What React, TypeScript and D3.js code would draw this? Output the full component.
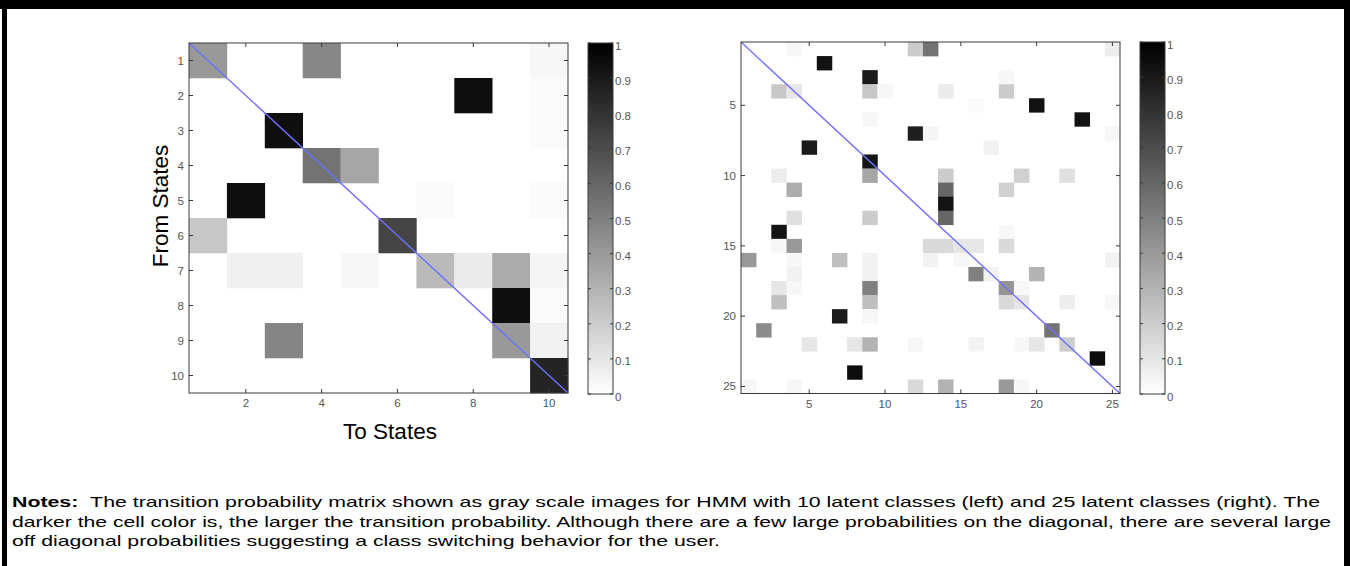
import React from 'react';
import * as d3 from 'd3';

// ---------- data ----------
const leftStates = [1, 2, 3, 4, 5, 6, 7, 8, 9, 10];
const leftXTicks = [2, 4, 6, 8, 10];
const leftYTicks = [1, 2, 3, 4, 5, 6, 7, 8, 9, 10];
// rows = from state, columns = to state
const leftMatrix = [
  [0.40, 0, 0, 0.47, 0, 0, 0, 0, 0, 0.03],
  [0, 0, 0, 0, 0, 0, 0, 0.94, 0, 0.02],
  [0, 0, 0.94, 0, 0, 0, 0, 0, 0, 0.02],
  [0, 0, 0, 0.55, 0.35, 0, 0, 0, 0, 0],
  [0, 0.94, 0, 0, 0, 0, 0.02, 0, 0, 0.02],
  [0.22, 0, 0, 0, 0, 0.73, 0, 0, 0, 0],
  [0, 0.06, 0.06, 0, 0.03, 0, 0.27, 0.08, 0.33, 0.04],
  [0, 0, 0, 0, 0, 0, 0, 0, 0.94, 0.02],
  [0, 0, 0.48, 0, 0, 0, 0, 0, 0.40, 0.05],
  [0, 0, 0, 0, 0, 0, 0, 0, 0, 0.86],
];

const rightStates = [1, 2, 3, 4, 5, 6, 7, 8, 9, 10, 11, 12, 13, 14, 15, 16, 17, 18, 19, 20, 21, 22, 23, 24, 25];
const rightTicks = [5, 10, 15, 20, 25];
// [from, to, probability]
const rightCells: [number, number, number][] = [
  [1, 4, 0.03], [1, 12, 0.2], [1, 13, 0.55], [1, 25, 0.07],
  [2, 6, 0.93],
  [3, 9, 0.9], [3, 18, 0.03],
  [4, 3, 0.22], [4, 4, 0.1], [4, 9, 0.22], [4, 10, 0.03], [4, 14, 0.08], [4, 18, 0.2],
  [5, 16, 0.02], [5, 20, 0.93],
  [6, 9, 0.03], [6, 23, 0.93],
  [7, 12, 0.88], [7, 13, 0.04], [7, 25, 0.03],
  [8, 5, 0.9], [8, 17, 0.05],
  [9, 9, 0.92],
  [10, 3, 0.07], [10, 9, 0.35], [10, 14, 0.2], [10, 19, 0.18], [10, 22, 0.12],
  [11, 4, 0.32], [11, 14, 0.6], [11, 18, 0.18],
  [12, 14, 0.92],
  [13, 4, 0.12], [13, 9, 0.2], [13, 14, 0.6],
  [14, 3, 0.92], [14, 18, 0.03],
  [15, 3, 0.03], [15, 4, 0.4], [15, 13, 0.15], [15, 14, 0.15], [15, 15, 0.1], [15, 16, 0.1], [15, 18, 0.15],
  [16, 1, 0.4], [16, 4, 0.03], [16, 7, 0.25], [16, 9, 0.05], [16, 13, 0.05], [16, 15, 0.03], [16, 25, 0.05],
  [17, 4, 0.05], [17, 9, 0.05], [17, 16, 0.5], [17, 17, 0.05], [17, 20, 0.3],
  [18, 3, 0.1], [18, 4, 0.03], [18, 9, 0.5], [18, 18, 0.42], [18, 19, 0.03],
  [19, 3, 0.25], [19, 9, 0.25], [19, 18, 0.15], [19, 19, 0.1], [19, 22, 0.07], [19, 25, 0.03],
  [20, 7, 0.9], [20, 9, 0.03],
  [21, 2, 0.45], [21, 21, 0.55],
  [22, 5, 0.1], [22, 8, 0.1], [22, 9, 0.3], [22, 12, 0.03], [22, 16, 0.05], [22, 19, 0.03], [22, 20, 0.1], [22, 22, 0.2],
  [23, 24, 0.95],
  [24, 8, 0.95],
  [25, 1, 0.03], [25, 4, 0.03], [25, 12, 0.15], [25, 14, 0.3], [25, 18, 0.4], [25, 19, 0.03],
];

const colorbarTicks = [0, 0.1, 0.2, 0.3, 0.4, 0.5, 0.6, 0.7, 0.8, 0.9, 1];
const colorbarLabels = ['0', '0.1', '0.2', '0.3', '0.4', '0.5', '0.6', '0.7', '0.8', '0.9', '1'];

const notesLines = [
  'The transition probability matrix shown as gray scale images for HMM with 10 latent classes (left) and 25 latent classes (right). The',
  'darker the cell color is, the larger the transition probability. Although there are a few large probabilities on the diagonal, there are several large',
  'off diagonal probabilities suggesting a class switching behavior for the user.',
];
const notesLineWidths = [1308, 1319, 708];

// ---------- styling ----------
const FONT = "'Liberation Sans', Arial, Helvetica, sans-serif";
const gray = d3.scaleLinear<string>().domain([0, 1]).range(['#ffffff', '#000000']);
const AXIS = '#3a3a3a';
const TICKTXT = '#555';

type Cell = { r: number; c: number; v: number };

function Heatmap(props: {
  states: number[];
  xTicks: number[];
  yTicks: number[];
  cells: Cell[];
  x0: number; y0: number; x1: number; y1: number;
}) {
  const { states, xTicks, yTicks, cells, x0, y0, x1, y1 } = props;
  const x = d3.scaleBand<number>().domain(states).range([x0, x1]);
  const y = d3.scaleBand<number>().domain(states).range([y0, y1]);
  const bw = x.bandwidth();
  const bh = y.bandwidth();
  const tl = 4;
  return (
    <g>
      {cells.filter(d => d.v > 0).map((d, i) => (
        <rect key={i} x={x(d.c)!} y={y(d.r)!} width={bw + 0.3} height={bh + 0.3} fill={gray(d.v)} />
      ))}
      <line x1={x0} y1={y0} x2={x1} y2={y1} stroke="#6f6fff" strokeWidth={1.4} />
      <rect x={x0} y={y0} width={x1 - x0} height={y1 - y0} fill="none" stroke={AXIS} strokeWidth={1} />
      {xTicks.map(t => {
        const cx = x(t)! + bw / 2;
        return (
          <g key={'x' + t}>
            <line x1={cx} x2={cx} y1={y1} y2={y1 - tl} stroke={AXIS} />
            <line x1={cx} x2={cx} y1={y0} y2={y0 + tl} stroke={AXIS} />
            <text x={cx} y={y1 + 14} textAnchor="middle" fontFamily={FONT} fontSize={11.5} fill={TICKTXT}>{t}</text>
          </g>
        );
      })}
      {yTicks.map(t => {
        const cy = y(t)! + bh / 2;
        return (
          <g key={'y' + t}>
            <line x1={x0} x2={x0 + tl} y1={cy} y2={cy} stroke={AXIS} />
            <line x1={x1} x2={x1 - tl} y1={cy} y2={cy} stroke={AXIS} />
            <text x={x0 - 5} y={cy} dy="0.35em" textAnchor="end" fontFamily={FONT} fontSize={11.5} fill={TICKTXT}>{t}</text>
          </g>
        );
      })}
    </g>
  );
}

function Colorbar(props: { id: string; x0: number; y0: number; w: number; h: number }) {
  const { id, x0, y0, w, h } = props;
  const s = d3.scaleLinear().domain([0, 1]).range([y0 + h, y0]);
  return (
    <g>
      <defs>
        <linearGradient id={id} x1="0" y1="1" x2="0" y2="0">
          <stop offset="0" stopColor={gray(0)} />
          <stop offset="1" stopColor={gray(1)} />
        </linearGradient>
      </defs>
      <rect x={x0} y={y0} width={w} height={h} fill={`url(#${id})`} stroke={AXIS} strokeWidth={1} />
      {colorbarTicks.map((t, i) => (
        <g key={i}>
          <line x1={x0} x2={x0 + 3} y1={s(t)} y2={s(t)} stroke={AXIS} />
          <line x1={x0 + w} x2={x0 + w - 3} y1={s(t)} y2={s(t)} stroke={AXIS} />
          <text x={x0 + w + 2} y={s(t) + 2.5} dy="0.35em" fontFamily={FONT} fontSize={11.5} fill={TICKTXT}>{colorbarLabels[i]}</text>
        </g>
      ))}
    </g>
  );
}

export default function App() {
  const leftCells: Cell[] = [];
  leftMatrix.forEach((row, ri) => row.forEach((v, ci) => leftCells.push({ r: leftStates[ri], c: leftStates[ci], v })));
  const rCells: Cell[] = rightCells.map(([r, c, v]) => ({ r, c, v }));

  return (
    <svg width={1350} height={566} style={{ position: 'absolute', left: 0, top: 0, background: '#fff' }}>
      <rect x={0} y={0} width={1350} height={566} fill="#fff" />
      {/* frame */}
      <rect x={0} y={0} width={1350} height={9} fill="#000" />
      <rect x={2} y={0} width={5} height={566} fill="#000" />
      <rect x={1344} y={0} width={6} height={566} fill="#000" />

      <Heatmap states={leftStates} xTicks={leftXTicks} yTicks={leftYTicks} cells={leftCells}
        x0={189} y0={43} x1={568} y1={393} />
      <Colorbar id="cb1" x0={588} y0={43} w={25} h={351} />

      <Heatmap states={rightStates} xTicks={rightTicks} yTicks={rightTicks} cells={rCells}
        x0={741} y0={42} x1={1120} y1={393.5} />
      <Colorbar id="cb2" x0={1140} y0={42} w={25} h={352} />

      <text transform="translate(168,206) rotate(-90)" textAnchor="middle" fontFamily={FONT} fontSize={22.5} fill="#000">From States</text>
      <text x={390} y={439} textAnchor="middle" fontFamily={FONT} fontSize={22.5} fill="#000">To States</text>

      {notesLines.map((line, i) => (
        <text key={i} x={12} y={507 + i * 19.5} fontFamily={FONT} fontSize={15} fill="#000"
          textLength={notesLineWidths[i]} lengthAdjust="spacingAndGlyphs">
          {i === 0 ? (
            <>
              <tspan fontWeight="bold">Notes:</tspan>
              <tspan>{'\u00a0\u00a0' + line}</tspan>
            </>
          ) : line}
        </text>
      ))}
    </svg>
  );
}
